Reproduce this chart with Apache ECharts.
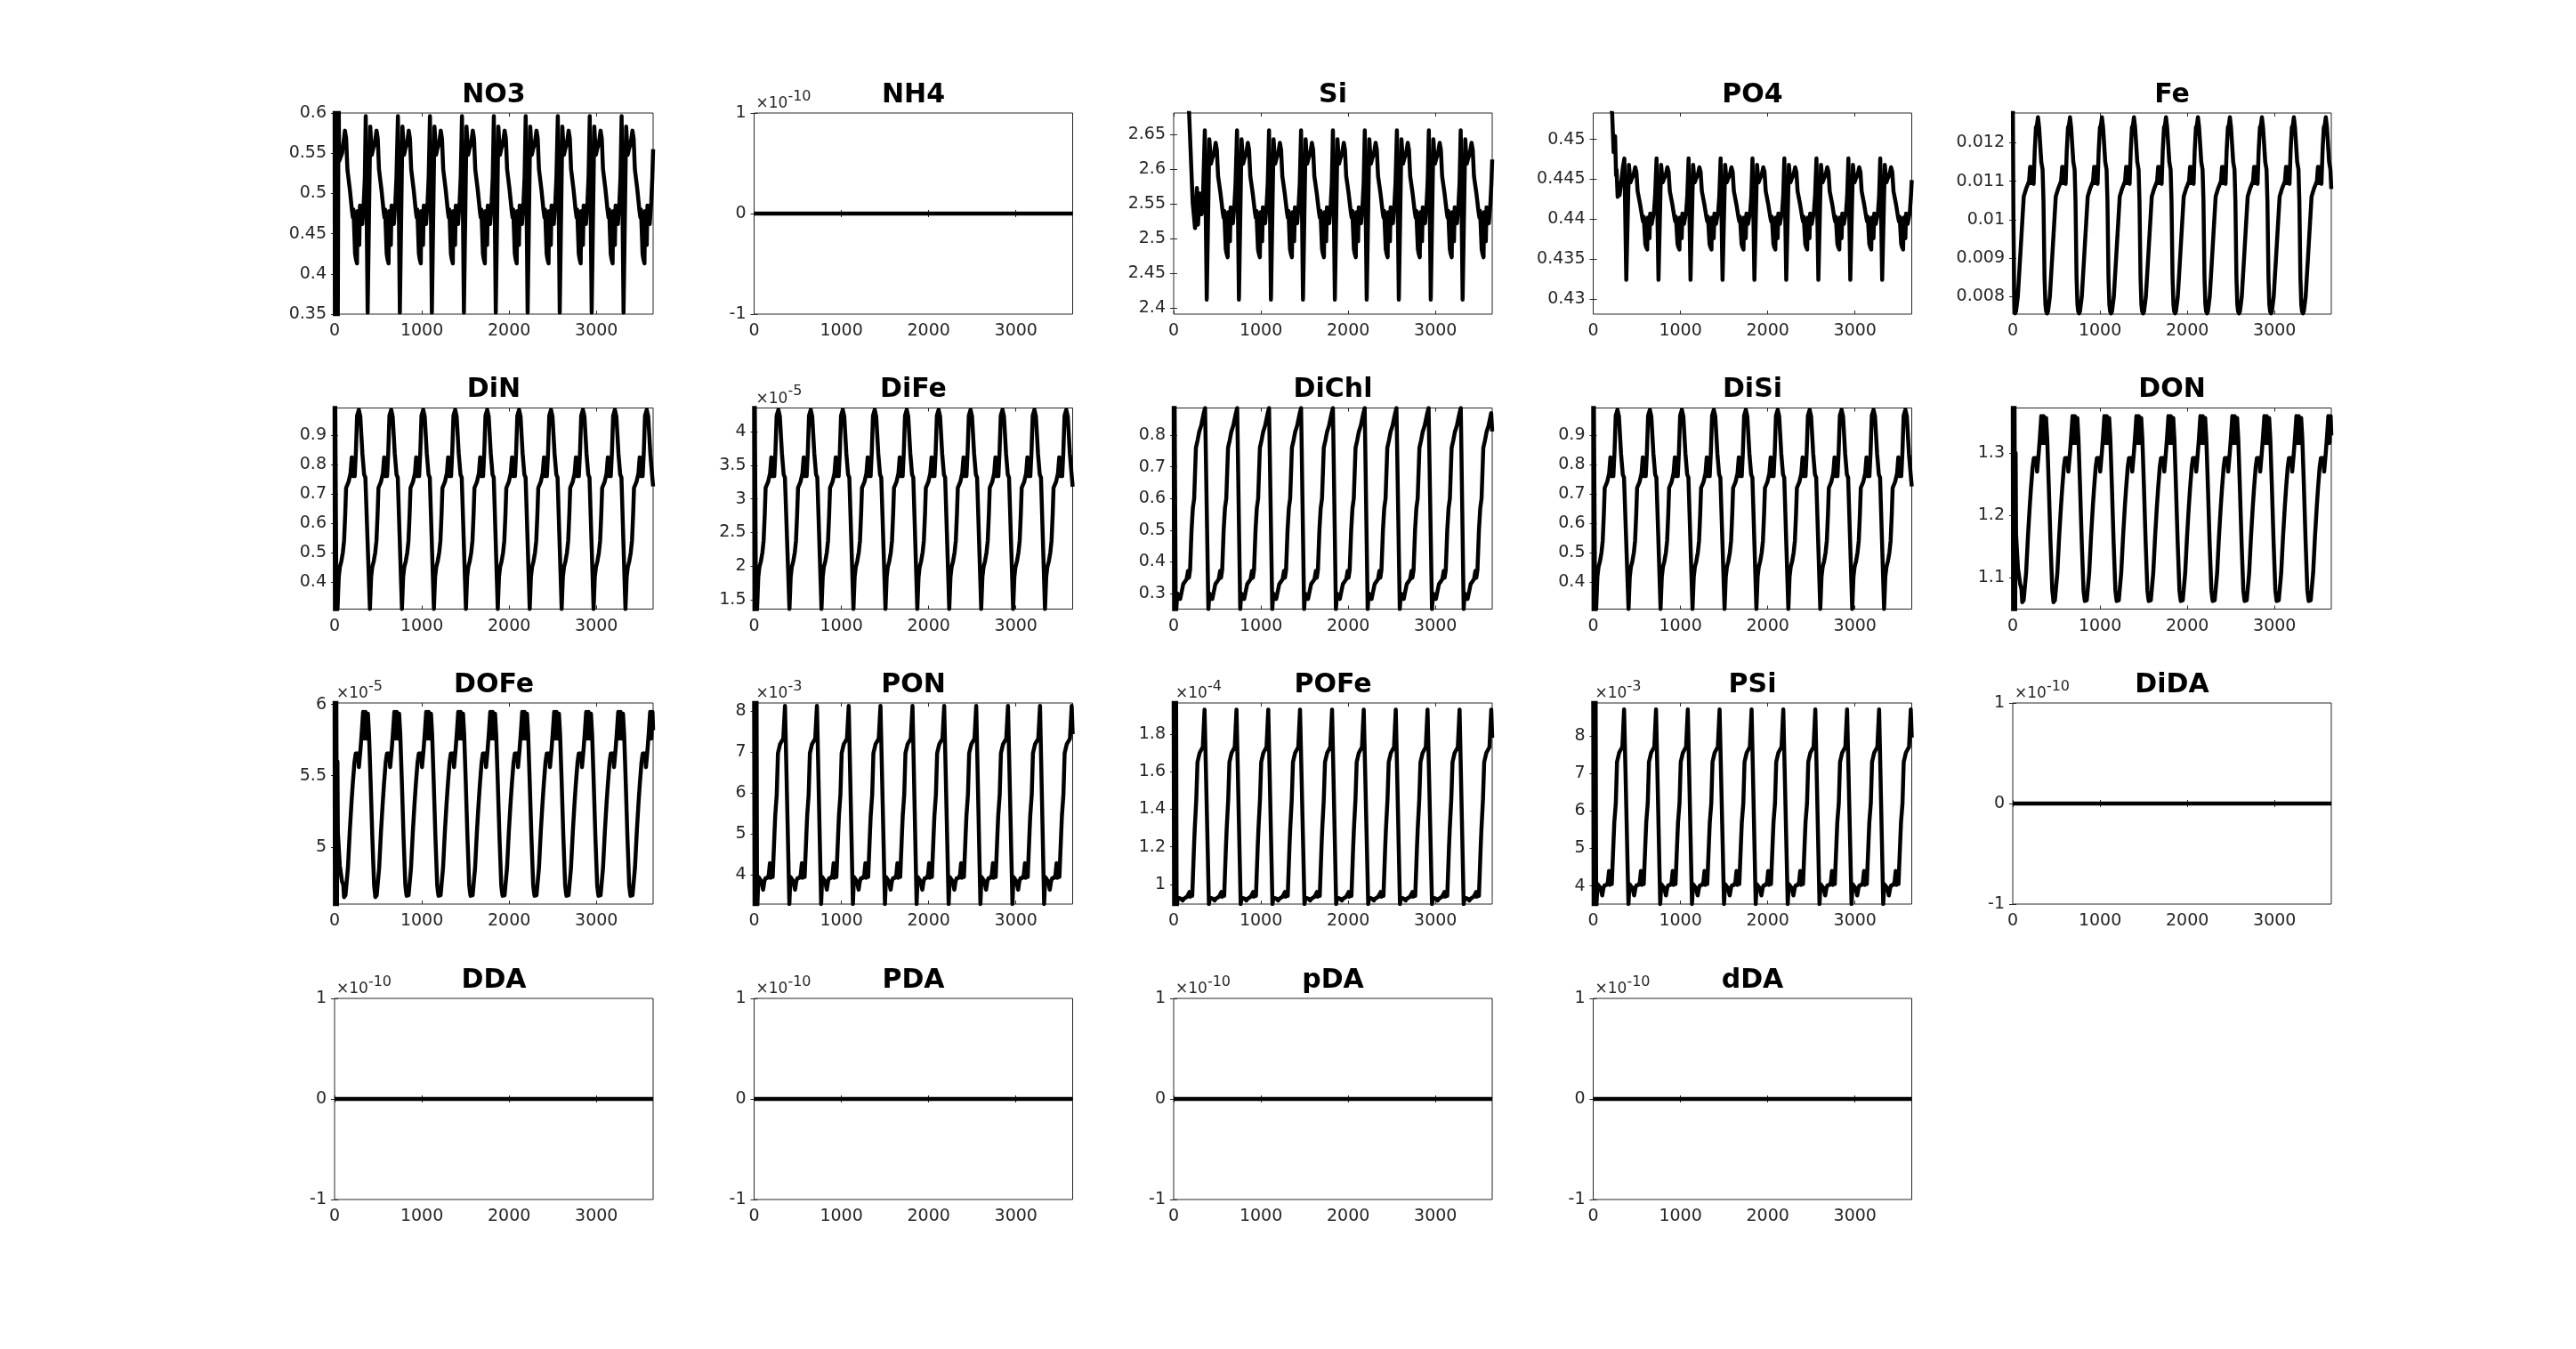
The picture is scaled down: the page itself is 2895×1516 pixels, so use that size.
<!DOCTYPE html>
<html><head><meta charset="utf-8">
<script src="https://cdn.jsdelivr.net/npm/echarts@6/dist/echarts.min.js"></script>
<style>html,body{margin:0;padding:0;background:#fff}#c{width:2895px;height:1516px}</style>
</head><body><div id="c"></div><script>
// ---------------- DATA (days, values) ----------------
const X_TICKS = [0, 1000, 2000, 3000];
const X_MAX = 3650;

// NO3 (cycle measured relative to the yearly peak)
const NO3_head = [[0,0.65],[4,0.3],[8,0.65],[13,0.3],[18,0.65],[36,0.3],[46,0.65],[52,0.54],[68,0.54],[86,0.55],[104,0.565],[119,0.578],[133,0.568],[147,0.53],[175,0.505],[200,0.478],[210,0.47],[217,0.48],[227,0.478],[235,0.425],[245,0.418],[257,0.413],[263,0.478],[275,0.44],[283,0.436],[291,0.485],[301,0.487],[309,0.465],[317,0.462],[335,0.49],[347,0.52]];
const NO3_cycle = [[0,0.596],[22,0.352],[52,0.583],[70,0.548],[86,0.556],[104,0.562],[124,0.578],[138,0.568],[152,0.53],[180,0.505],[205,0.478],[215,0.47],[222,0.48],[232,0.478],[240,0.425],[250,0.418],[262,0.413],[268,0.478],[280,0.44],[288,0.436],[296,0.485],[306,0.487],[314,0.465],[322,0.462],[340,0.49],[352,0.52]];
const NO3_starts = [357,726,1093,1460,1825,2190,2558,2924,3289];
const NO3_tail = [[3650,0.555]];
const NO3_ticks = [0.35,0.4,0.45,0.5,0.55,0.6];
const NO3_range = [0.35,0.6];

// Si
const Si_head = [[0,2.95],[120,2.76],[177,2.681],[218,2.552],[245,2.515],[266,2.573],[279,2.52],[300,2.565],[320,2.535],[334,2.55]];
const Si_cycle = [[0,2.656],[22,2.412],[52,2.643],[70,2.608],[86,2.616],[104,2.622],[124,2.638],[138,2.628],[152,2.59],[180,2.565],[205,2.538],[215,2.53],[222,2.54],[232,2.538],[240,2.485],[250,2.478],[262,2.473],[268,2.538],[280,2.5],[288,2.496],[296,2.545],[306,2.547],[314,2.525],[322,2.522],[340,2.55],[352,2.58]];
const Si_starts = [357,726,1093,1460,1825,2190,2558,2924,3289];
const Si_tail = [[3650,2.614]];
const Si_ticks = [2.4,2.45,2.5,2.55,2.6,2.65];
const Si_range = [2.391,2.681];

// PO4
const PO4_head = [[0,0.47],[150,0.456],[217,0.4533],[234,0.4484],[251,0.4504],[262,0.4455],[268,0.4462],[280,0.4428],[290,0.4445],[302,0.443],[320,0.4445],[340,0.4465]];
const PO4_cycle = [[0,0.4476],[22,0.4324],[52,0.4468],[70,0.4446],[86,0.4451],[104,0.4455],[124,0.4465],[138,0.4459],[152,0.4435],[180,0.4419],[205,0.4402],[215,0.4397],[222,0.4403],[232,0.4402],[240,0.4369],[250,0.4365],[262,0.4362],[268,0.4402],[280,0.4379],[288,0.4376],[296,0.4407],[306,0.4408],[314,0.4394],[322,0.4392],[340,0.441],[352,0.4429]];
const PO4_starts = [357,726,1093,1460,1825,2190,2558,2924,3289];
const PO4_tail = [[3650,0.4449]];
const PO4_ticks = [0.43,0.435,0.44,0.445,0.45];
const PO4_range = [0.4281,0.4533];

// Fe (cycle relative to the yearly minimum)
const Fe_head = [[0,0.0135],[8,0.01],[16,0.0082],[22,0.0077]];
const Fe_cycle = [[0,0.00757],[10,0.00762],[20,0.0078],[31,0.008],[60,0.0091],[99,0.0106],[125,0.0108],[160,0.011],[172,0.01137],[185,0.01095],[198,0.01137],[212,0.01093],[225,0.0118],[239,0.0124],[250,0.01245],[262,0.01266],[275,0.0124],[300,0.0115],[315,0.0113],[325,0.0105],[337,0.0085],[347,0.0078],[356,0.00762]];
const Fe_starts = [27,394,760,1127,1494,1860,2226,2593,2959,3325];
const Fe_tail = [[3650,0.0108]];
const Fe_ticks = [0.008,0.009,0.01,0.011,0.012];
const Fe_range = [0.00755,0.01277];

// DiN
const DiN_head = [[0,1.0],[4,0.3],[8,1.0],[14,1.0],[22,0.3]];
const DiN_cycle = [[0,0.307],[14,0.416],[27,0.45],[44,0.47],[61,0.5],[75,0.54],[88,0.63],[98,0.72],[126,0.74],[149,0.77],[163,0.824],[173,0.76],[187,0.775],[197,0.76],[210,0.84],[224,0.966],[244,0.986],[261,0.963],[285,0.836],[305,0.765],[319,0.755]];
const DiN_starts = [34,405,772,1138,1505,1870,2236,2602,2968,3333];
const DiN_tail = [[3650,0.725]];
const DiN_ticks = [0.4,0.5,0.6,0.7,0.8,0.9];
const DiN_range = [0.307,0.992];

// DiFe (x 1e-5)
const DiFe_head = [[0,4.4],[4,1.3],[8,4.4],[14,4.4],[22,1.3]];
const DiFe_cycle = [[0,1.363],[14,1.838],[27,1.987],[44,2.074],[61,2.205],[75,2.379],[88,2.771],[98,3.164],[126,3.251],[149,3.382],[163,3.617],[173,3.338],[187,3.404],[197,3.338],[210,3.687],[224,4.237],[244,4.324],[261,4.224],[285,3.67],[305,3.36],[319,3.317]];
const DiFe_starts = [34,405,772,1138,1505,1870,2236,2602,2968,3333];
const DiFe_tail = [[3650,3.18]];
const DiFe_ticks = [1.5,2,2.5,3,3.5,4];
const DiFe_range = [1.363,4.35];

// DiChl
const DiChl_head = [[0,0.95],[5,0.24],[10,0.95],[16,0.95],[24,0.24]];
const DiChl_cycle = [[0,0.251],[12,0.3],[30,0.3],[45,0.283],[60,0.288],[80,0.33],[100,0.33],[118,0.345],[135,0.372],[145,0.35],[158,0.375],[175,0.5],[190,0.57],[205,0.6],[225,0.76],[245,0.785],[262,0.81],[285,0.83],[315,0.87],[330,0.886]];
const DiChl_starts = [30,398,763,1130,1495,1859,2223,2591,2960,3323];
const DiChl_tail = [[3650,0.812]];
const DiChl_ticks = [0.3,0.4,0.5,0.6,0.7,0.8];
const DiChl_range = [0.251,0.886];

// DiSi
const DiSi_head = [[0,1.0],[4,0.3],[8,1.0],[14,1.0],[22,0.3]];
const DiSi_cycle = [[0,0.307],[14,0.416],[27,0.45],[44,0.47],[61,0.5],[75,0.54],[88,0.63],[98,0.72],[126,0.74],[149,0.77],[163,0.824],[173,0.76],[187,0.775],[197,0.76],[210,0.84],[224,0.966],[244,0.986],[261,0.963],[285,0.836],[305,0.765],[319,0.755]];
const DiSi_starts = [34,405,772,1138,1505,1870,2236,2602,2968,3333];
const DiSi_tail = [[3650,0.725]];
const DiSi_ticks = [0.4,0.5,0.6,0.7,0.8,0.9];
const DiSi_range = [0.307,0.992];

// DON
const DON_head = [[0,1.4],[4,1.04],[8,1.4],[14,1.04],[20,1.4],[28,1.04],[33,1.3],[38,1.17],[60,1.115],[85,1.09],[100,1.082]];
const DON_cycle = [[0,1.061],[8,1.062],[16,1.064],[24,1.066],[44,1.108],[65,1.166],[85,1.213],[99,1.242],[119,1.278],[133,1.292],[160,1.292],[170,1.27],[188,1.299],[201,1.323],[218,1.359],[232,1.316],[245,1.359],[259,1.316],[273,1.356],[286,1.323],[303,1.251],[324,1.156],[344,1.08],[352,1.07],[359,1.063]];
const DON_starts = [109,467,832,1199,1566,1932,2298,2665,3032,3398];
const DON_tail = [[3650,1.328]];
const DON_ticks = [1.1,1.2,1.3];
const DON_range = [1.05,1.372];

// DOFe (x 1e-5)
const DOFe_head = [[0,6.1],[4,4.55],[8,6.1],[14,4.55],[20,6.1],[28,4.55],[33,5.6],[38,5.1],[60,4.87],[85,4.76],[100,4.735]];
const DOFe_cycle = [[0,4.649],[8,4.653],[16,4.662],[24,4.671],[44,4.854],[65,5.107],[85,5.312],[99,5.438],[119,5.595],[133,5.656],[160,5.656],[170,5.56],[188,5.686],[201,5.791],[218,5.948],[232,5.76],[245,5.948],[259,5.76],[273,5.935],[286,5.791],[303,5.477],[324,5.063],[344,4.732],[352,4.688],[359,4.658]];
const DOFe_starts = [109,467,832,1199,1566,1932,2298,2665,3032,3398];
const DOFe_tail = [[3650,5.82]];
const DOFe_ticks = [5,5.5,6];
const DOFe_range = [4.6,6.01];

// PON (x 1e-3)
const PON_head = [[0,8.4],[5,3.2],[10,8.4],[16,8.4],[22,3.2],[28,8.4],[34,3.2]];
const PON_cycle = [[0,3.29],[12,3.95],[25,3.93],[45,3.85],[65,3.64],[80,3.85],[92,3.92],[115,3.93],[130,4.0],[143,4.29],[150,3.93],[160,3.95],[167,4.28],[175,3.95],[195,5.0],[204,5.45],[221,5.96],[235,6.97],[260,7.2],[296,7.33],[316,8.13],[326,8.13]];
const PON_starts = [38,404,768,1132,1499,1862,2229,2593,2960,3323];
const PON_tail = [[3650,7.44]];
const PON_ticks = [4,5,6,7,8];
const PON_range = [3.29,8.2];

// POFe (x 1e-4)
const POFe_head = [[0,2.0],[5,0.85],[10,2.0],[16,2.0],[22,0.85],[28,2.0],[34,0.85]];
const POFe_cycle = [[0,0.896],[12,0.93],[25,0.93],[45,0.925],[65,0.915],[80,0.925],[92,0.93],[115,0.935],[130,0.94],[143,0.96],[150,0.935],[160,0.94],[167,0.96],[175,0.94],[195,1.2],[204,1.3],[221,1.45],[235,1.65],[260,1.7],[296,1.73],[316,1.93],[326,1.93]];
const POFe_starts = [38,404,768,1132,1499,1862,2229,2593,2960,3323];
const POFe_tail = [[3650,1.78]];
const POFe_ticks = [1,1.2,1.4,1.6,1.8];
const POFe_range = [0.896,1.965];

// PSi (x 1e-3)
const PSi_head = [[0,9.0],[5,3.4],[10,9.0],[16,9.0],[22,3.4],[28,9.0],[34,3.4]];
const PSi_cycle = [[0,3.52],[12,4.05],[25,4.03],[45,3.95],[65,3.75],[80,3.95],[92,4.02],[115,4.03],[130,4.1],[143,4.4],[150,4.03],[160,4.05],[167,4.38],[175,4.05],[195,5.2],[204,5.7],[221,6.2],[235,7.3],[260,7.55],[296,7.7],[316,8.7],[326,8.7]];
const PSi_starts = [38,404,768,1132,1499,1862,2229,2593,2960,3323];
const PSi_tail = [[3650,7.95]];
const PSi_ticks = [4,5,6,7,8];
const PSi_range = [3.52,8.87];

// all-zero tracers (x 1e-10)
const ZERO_line = [[0,0],[3650,0]];
const ZERO_ticks = [-1,0,1];
const ZERO_range = [-1,1];

const TITLES = ['NO3','NH4','Si','PO4','Fe','DiN','DiFe','DiChl','DiSi','DON','DOFe','PON','POFe','PSi','DiDA','DDA','PDA','pDA','dDA'];
const EXPONENTS = [null,'-10',null,null,null,null,'-5',null,null,null,'-5','-3','-4','-3','-10','-10','-10','-10','-10'];

// ---------------- BUILD ----------------
function buildSeries(head, cycle, starts, tail) {
  const lo = head.length ? head[head.length - 1][0] : -Infinity;
  const hi = tail.length ? tail[0][0] : Infinity;
  const pts = head.slice();
  starts.forEach(s => cycle.forEach(([d, v]) => { const x = s + d; if (x > lo && x < hi) pts.push([x, v]); }));
  pts.sort((a, b) => a[0] - b[0]);
  return pts.concat(tail);
}
const SERIES = [
  [buildSeries(NO3_head, NO3_cycle, NO3_starts, NO3_tail), NO3_range, NO3_ticks],
  [ZERO_line, ZERO_range, ZERO_ticks],
  [buildSeries(Si_head, Si_cycle, Si_starts, Si_tail), Si_range, Si_ticks],
  [buildSeries(PO4_head, PO4_cycle, PO4_starts, PO4_tail), PO4_range, PO4_ticks],
  [buildSeries(Fe_head, Fe_cycle, Fe_starts, Fe_tail), Fe_range, Fe_ticks],
  [buildSeries(DiN_head, DiN_cycle, DiN_starts, DiN_tail), DiN_range, DiN_ticks],
  [buildSeries(DiFe_head, DiFe_cycle, DiFe_starts, DiFe_tail), DiFe_range, DiFe_ticks],
  [buildSeries(DiChl_head, DiChl_cycle, DiChl_starts, DiChl_tail), DiChl_range, DiChl_ticks],
  [buildSeries(DiSi_head, DiSi_cycle, DiSi_starts, DiSi_tail), DiSi_range, DiSi_ticks],
  [buildSeries(DON_head, DON_cycle, DON_starts, DON_tail), DON_range, DON_ticks],
  [buildSeries(DOFe_head, DOFe_cycle, DOFe_starts, DOFe_tail), DOFe_range, DOFe_ticks],
  [buildSeries(PON_head, PON_cycle, PON_starts, PON_tail), PON_range, PON_ticks],
  [buildSeries(POFe_head, POFe_cycle, POFe_starts, POFe_tail), POFe_range, POFe_ticks],
  [buildSeries(PSi_head, PSi_cycle, PSi_starts, PSi_tail), PSi_range, PSi_ticks],
  [ZERO_line, ZERO_range, ZERO_ticks],
  [ZERO_line, ZERO_range, ZERO_ticks],
  [ZERO_line, ZERO_range, ZERO_ticks],
  [ZERO_line, ZERO_range, ZERO_ticks],
  [ZERO_line, ZERO_range, ZERO_ticks]
];

// ---------------- LAYOUT ----------------
const COL_LEFT = [376, 847.5, 1319, 1790.5, 2262];
const ROW_TOP = [127, 458.5, 790, 1122];
const GW = 358, GH = 226;
const AX = '#262626';
const FONT = 'DejaVu Sans';
const TICK_FS = 19;

function fmt(v) { return String(parseFloat(Number(v).toPrecision(6))); }
const ctx = document.createElement('canvas').getContext('2d');
function textW(t, font) { ctx.font = font; return ctx.measureText(t).width; }

const grids = [], xAxes = [], yAxes = [], series = [], graphics = [];
SERIES.forEach(([data, range, ticks], i) => {
  const left = COL_LEFT[i % 5], top = ROW_TOP[Math.floor(i / 5)];
  grids.push({left, top, width: GW, height: GH, show: true, borderColor: AX, borderWidth: 1, backgroundColor: '#fff'});
  const tick = {show: true, inside: true, length: 4, lineStyle: {color: AX, width: 1}};
  const lbl = {fontSize: TICK_FS, color: AX, fontFamily: FONT};
  xAxes.push({gridIndex: i, type: 'value', min: 0, max: X_MAX, position: 'bottom',
    axisLine: {show: false}, splitLine: {show: false},
    axisTick: Object.assign({customValues: X_TICKS}, tick),
    axisLabel: Object.assign({customValues: X_TICKS, margin: 10, formatter: v => fmt(v)}, lbl)});
  xAxes.push({gridIndex: i, type: 'value', min: 0, max: X_MAX, position: 'top',
    axisLine: {show: false}, splitLine: {show: false},
    axisTick: Object.assign({customValues: X_TICKS}, tick), axisLabel: {show: false}});
  yAxes.push({gridIndex: i, type: 'value', min: range[0], max: range[1], position: 'left',
    axisLine: {show: false}, splitLine: {show: false},
    axisTick: Object.assign({customValues: ticks}, tick),
    axisLabel: Object.assign({customValues: ticks, margin: 9, formatter: v => fmt(v)}, lbl)});
  yAxes.push({gridIndex: i, type: 'value', min: range[0], max: range[1], position: 'right',
    axisLine: {show: false}, splitLine: {show: false},
    axisTick: Object.assign({customValues: ticks}, tick), axisLabel: {show: false}});
  series.push({type: 'line', xAxisIndex: 2 * i, yAxisIndex: 2 * i, data, showSymbol: false, symbol: 'none',
    lineStyle: {color: '#000', width: 4.5, join: 'round'}, clip: true, silent: true, animation: false, z: 3});
  graphics.push({type: 'text', x: left + GW / 2, y: top - 20, silent: true,
    style: {text: TITLES[i], font: 'bold 30px "' + FONT + '"', fill: '#000', align: 'center', verticalAlign: 'middle'}});
  if (EXPONENTS[i]) {
    const f1 = '17px "' + FONT + '"', f2 = '16px "' + FONT + '"';
    const w1 = textW('\u00d710', f1);
    graphics.push({type: 'text', x: left + 2, y: top - 10, silent: true,
      style: {text: '\u00d710', font: f1, fill: AX, align: 'left', verticalAlign: 'middle'}});
    graphics.push({type: 'text', x: left + 2 + w1, y: top - 18.5, silent: true,
      style: {text: EXPONENTS[i], font: f2, fill: AX, align: 'left', verticalAlign: 'middle'}});
  }
});

const chart = echarts.init(document.getElementById('c'), null, {renderer: 'canvas', width: 2895, height: 1516});
chart.setOption({
  animation: false,
  backgroundColor: '#fff',
  grid: grids, xAxis: xAxes, yAxis: yAxes, series,
  graphic: {elements: graphics}
});
</script></body></html>
